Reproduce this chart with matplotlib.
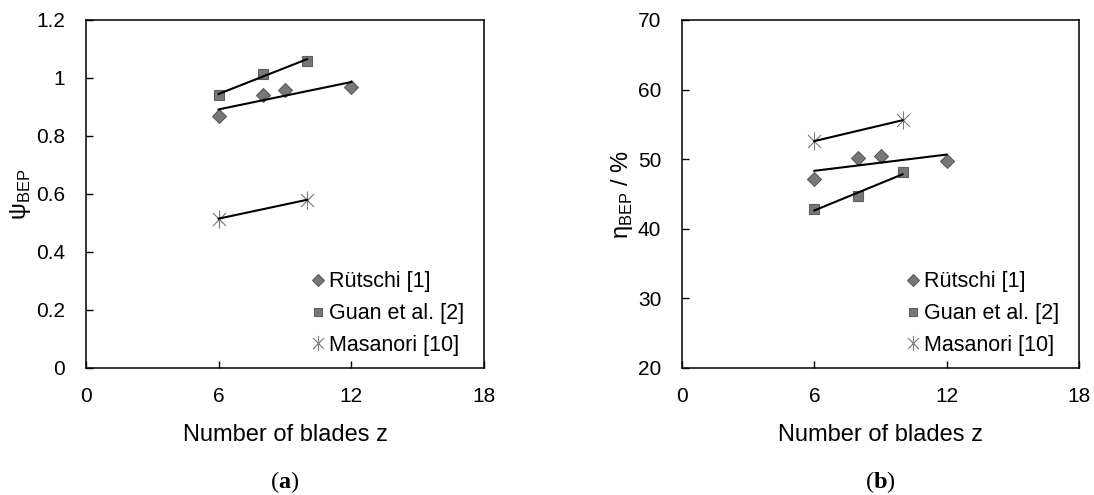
import numpy as np
import matplotlib.pyplot as plt
from matplotlib.path import Path

plt.rcParams['font.family'] = ['Liberation Sans', 'DejaVu Sans']
plt.rcParams['mathtext.fontset'] = 'custom'
plt.rcParams['mathtext.rm'] = 'Liberation Sans'
plt.rcParams['mathtext.bf'] = 'Liberation Serif:bold'

# Data
z_ruetschi = [6, 8, 9, 12]
z_guan = [6, 8, 10]
z_masanori = [6, 10]

psi_ruetschi = [0.87, 0.94, 0.96, 0.97]
psi_guan = [0.94, 1.015, 1.06]
psi_masanori = [0.515, 0.58]

eta_ruetschi = [47.1, 50.2, 50.5, 49.8]
eta_guan = [42.9, 44.7, 48.1]
eta_masanori = [52.6, 55.6]

labels = ["Rütschi [1]", "Guan et al. [2]", "Masanori [10]"]

# star marker like Excel: X with a vertical bar
star = Path([(-0.72, -0.72), (0.72, 0.72), (-0.72, 0.72), (0.72, -0.72), (0, -1), (0, 1)],
            [Path.MOVETO, Path.LINETO] * 3)

grey = "#777777"
edge = "#5e5e5e"


def trend(ax, x, y):
    k, d = np.polyfit(x, y, 1)
    xx = np.array([min(x), max(x)])
    ax.plot(xx, k * xx + d, color="black", lw=1.5, zorder=3)


def panel(ax, yr, yg, ym, ylim, yticks, ylabel):
    ax.plot(z_ruetschi, yr, ls="none", marker="D", ms=7, mfc=grey, mec=edge,
            mew=0.8, label=labels[0], zorder=2)
    ax.plot(z_guan, yg, ls="none", marker="s", ms=7.5, mfc=grey, mec=edge,
            mew=0.8, label=labels[1], zorder=2)
    ax.plot(z_masanori, ym, ls="none", marker=star, ms=13, mec="#7a7a7a",
            mew=0.8, label=labels[2], zorder=2)
    trend(ax, z_ruetschi, yr)
    trend(ax, z_guan, yg)
    trend(ax, z_masanori, ym)

    ax.set_xlim(0, 18)
    ax.set_xticks([0, 6, 12, 18])
    ax.set_ylim(*ylim)
    ax.set_yticks(yticks)
    ax.tick_params(direction="in", length=5, width=1, labelsize=15, pad=15)
    ax.tick_params(axis="x", pad=14)
    for s in ax.spines.values():
        s.set_linewidth(1.1)
    ax.set_xlabel("Number of blades z", fontsize=17, labelpad=13)
    ax.set_ylabel(ylabel, fontsize=17, labelpad=2)
    leg = ax.legend(loc="lower right", frameon=False, fontsize=15.5,
                    handletextpad=0.0, handlelength=1.0, labelspacing=0.5,
                    borderaxespad=0.0, bbox_to_anchor=(0.972, 0.01),
                    markerscale=0.85)


fig = plt.figure(figsize=(10.94, 4.95), dpi=100)
ax1 = fig.add_axes([0.0786, 0.2566, 0.3638, 0.703])
ax2 = fig.add_axes([0.6234, 0.2566, 0.3629, 0.703])

panel(ax1, psi_ruetschi, psi_guan, psi_masanori, (0, 1.2),
      [0, 0.2, 0.4, 0.6, 0.8, 1.0, 1.2], r"ψ$_\mathrm{BEP}$")
ax1.set_yticklabels(["0", "0.2", "0.4", "0.6", "0.8", "1", "1.2"])
panel(ax2, eta_ruetschi, eta_guan, eta_masanori, (20, 70),
      [20, 30, 40, 50, 60, 70], r"η$_\mathrm{BEP}$ / %")

fig.text(0.2606, 0.014, r"($\mathbf{a}$)", ha="center", fontsize=17.5,
         family="Liberation Serif")
fig.text(0.8049, 0.014, r"($\mathbf{b}$)", ha="center", fontsize=17.5,
         family="Liberation Serif")

plt.savefig("out.png", dpi=100)
